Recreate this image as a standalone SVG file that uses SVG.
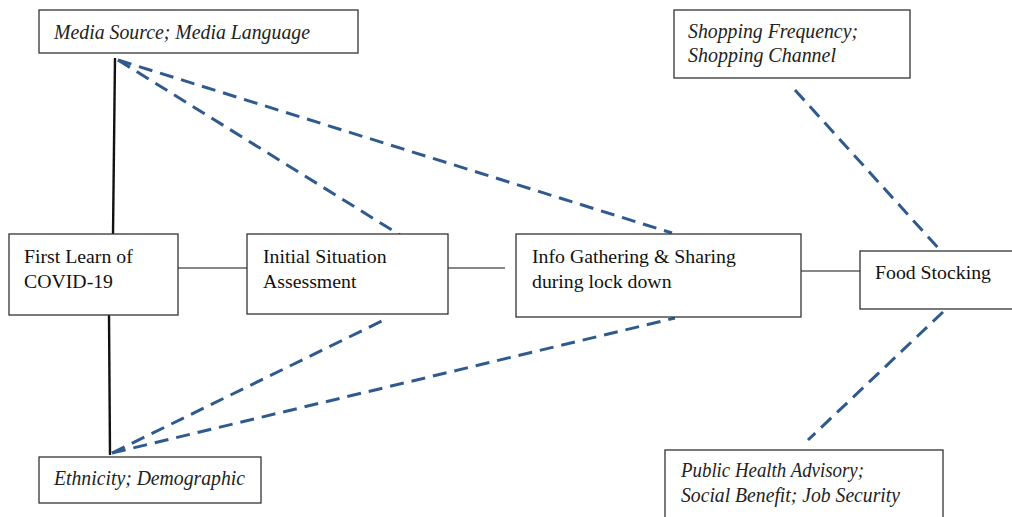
<svg xmlns="http://www.w3.org/2000/svg" width="1012" height="517" viewBox="0 0 1012 517">
<style>
.box{fill:#fff;stroke:#333;stroke-width:1.3}
.t{font-family:"Liberation Serif","Times New Roman",serif;font-size:19.8px;fill:#111}
.i{font-family:"Liberation Serif","Times New Roman",serif;font-size:20px;font-style:italic;fill:#222}
.solid{stroke:#111;stroke-width:1.2;fill:none}
.thick{stroke:#111;stroke-width:2.4;fill:none}
.dash{stroke:#2F5A8E;stroke-width:3;stroke-dasharray:14 8;fill:none}
</style>
<rect width="1012" height="517" fill="#fff"/>
<g id="connectors">
<line class="thick" x1="115" y1="58" x2="113" y2="234"/>
<line class="thick" x1="109" y1="315" x2="110" y2="455"/>
<line class="solid" x1="178" y1="268" x2="248" y2="268"/>
<line class="solid" x1="448" y1="268" x2="505" y2="268"/>
<line class="solid" x1="801" y1="271" x2="860" y2="271"/>
<line class="dash" x1="118" y1="60" x2="400" y2="235"/>
<line class="dash" x1="118" y1="60" x2="672" y2="233"/>
<line class="dash" x1="112" y1="453" x2="388" y2="318"/>
<line class="dash" x1="112" y1="453" x2="675" y2="318"/>
<line class="dash" x1="795" y1="90" x2="940" y2="250"/>
<line class="dash" x1="943" y1="312" x2="808" y2="440"/>
</g>
<g id="media">
<rect class="box" x="39" y="10" width="319" height="43"/>
<text class="i" x="54" y="39" textLength="256" lengthAdjust="spacingAndGlyphs">Media Source; Media Language</text>
</g>
<g id="shopping">
<rect class="box" x="674" y="10" width="236" height="68"/>
<text class="i" x="688" y="38" textLength="170" lengthAdjust="spacingAndGlyphs">Shopping Frequency;</text>
<text class="i" x="688" y="62" textLength="148" lengthAdjust="spacingAndGlyphs">Shopping Channel</text>
</g>
<g id="firstlearn">
<rect class="box" x="9" y="234" width="169" height="81"/>
<text class="t" x="24" y="263">First Learn of</text>
<text class="t" x="24" y="288">COVID-19</text>
</g>
<g id="initial">
<rect class="box" x="247" y="234" width="201" height="80"/>
<text class="t" x="263" y="263">Initial Situation</text>
<text class="t" x="263" y="288">Assessment</text>
</g>
<g id="info">
<rect class="box" x="516" y="234" width="285" height="83"/>
<text class="t" x="532" y="263">Info Gathering &amp; Sharing</text>
<text class="t" x="532" y="288">during lock down</text>
</g>
<g id="food">
<rect class="box" x="860" y="251" width="160" height="58"/>
<text class="t" x="875" y="279">Food Stocking</text>
</g>
<g id="ethnicity">
<rect class="box" x="39" y="457" width="222" height="46"/>
<text class="i" x="54" y="485" textLength="191" lengthAdjust="spacingAndGlyphs">Ethnicity; Demographic</text>
</g>
<g id="publichealth">
<rect class="box" x="665" y="450" width="278" height="80"/>
<text class="i" x="681" y="477" textLength="183" lengthAdjust="spacingAndGlyphs">Public Health Advisory;</text>
<text class="i" x="681" y="502" textLength="219" lengthAdjust="spacingAndGlyphs">Social Benefit; Job Security</text>
</g>
</svg>
